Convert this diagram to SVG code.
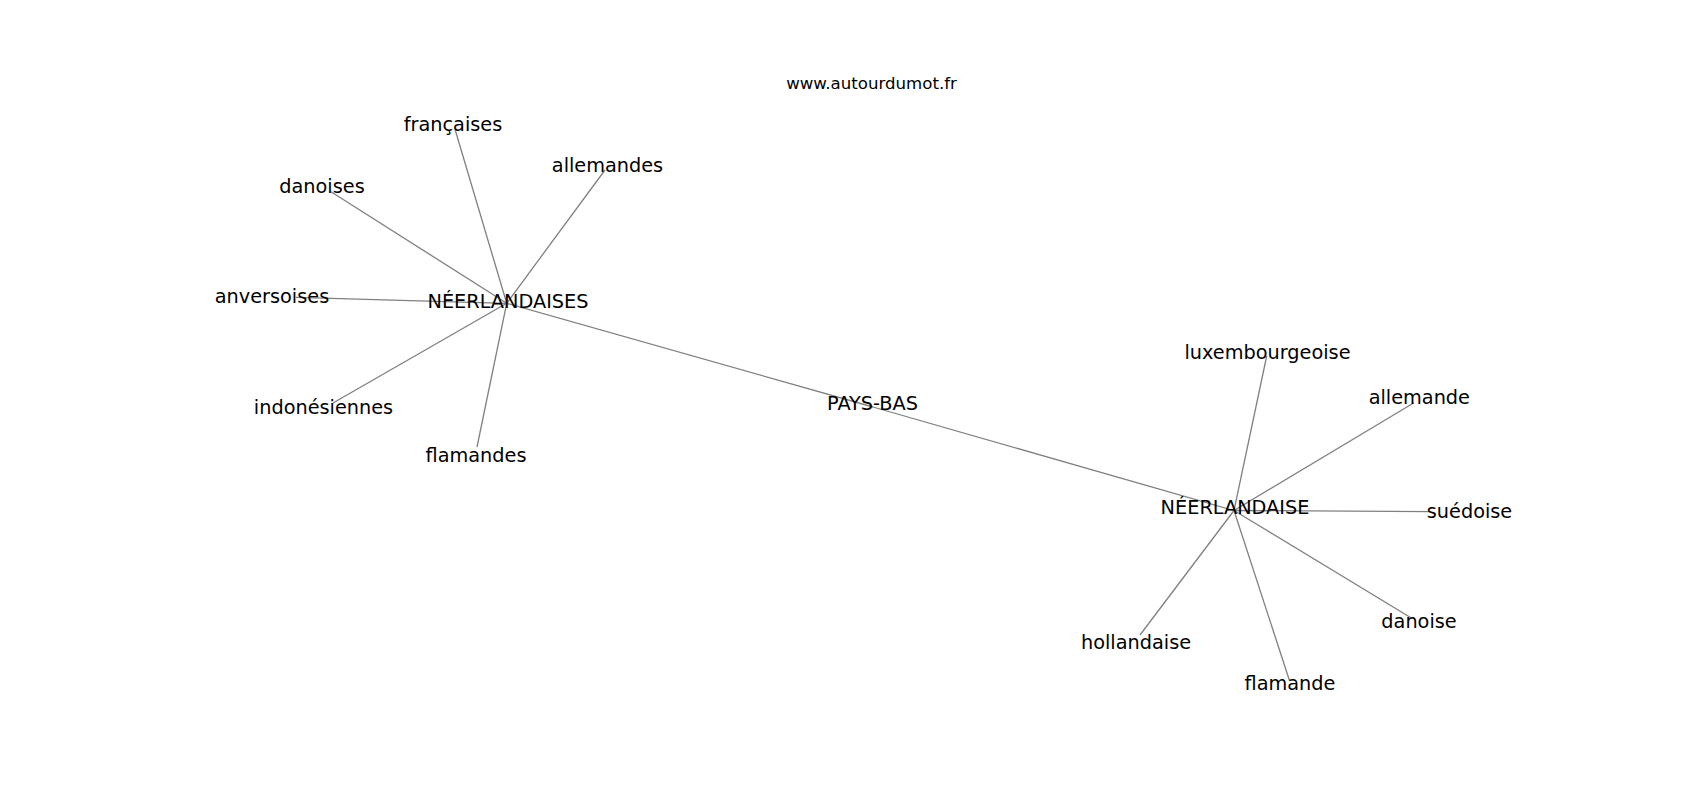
<svg xmlns="http://www.w3.org/2000/svg" width="1700" height="800" viewBox="0 0 1700 800">
<style>
.e{stroke:#808080;stroke-width:1.3;fill:none}
.l{font-family:"DejaVu Sans","Liberation Sans",sans-serif;font-size:19.3px;fill:#000;text-anchor:middle}
.t{font-family:"DejaVu Sans","Liberation Sans",sans-serif;font-size:16.6px;fill:#000;text-anchor:middle}
</style>
<rect width="1700" height="800" fill="#fff"/>
<text class="t" x="871.5" y="88.5">www.autourdumot.fr</text>
<g id="edges">
<line class="e" x1="506.7" y1="303.3" x2="455" y2="129.3"/>
<line class="e" x1="506.7" y1="303.3" x2="605" y2="170"/>
<line class="e" x1="506.7" y1="303.3" x2="331" y2="191.7"/>
<line class="e" x1="506.7" y1="303.3" x2="296" y2="297.3"/>
<line class="e" x1="506.7" y1="303.3" x2="333" y2="403"/>
<line class="e" x1="506.7" y1="303.3" x2="477" y2="447"/>
<line class="e" x1="506.7" y1="303.3" x2="873" y2="407"/>
<line class="e" x1="873" y1="407" x2="1234" y2="510.5"/>
<line class="e" x1="1234" y1="510.5" x2="1266.7" y2="356"/>
<line class="e" x1="1234" y1="510.5" x2="1414" y2="402.7"/>
<line class="e" x1="1234" y1="510.5" x2="1430" y2="511.7"/>
<line class="e" x1="1234" y1="510.5" x2="1411.7" y2="618.3"/>
<line class="e" x1="1234" y1="510.5" x2="1140" y2="635"/>
<line class="e" x1="1234" y1="510.5" x2="1289.3" y2="680"/>
</g>
<g id="n_neerlandaises"><text class="l" x="508" y="308.3">NÉERLANDAISES</text></g>
<g id="n_francaises"><text class="l" x="453" y="131">françaises</text></g>
<g id="n_allemandes"><text class="l" x="607.5" y="171.7">allemandes</text></g>
<g id="n_danoises"><text class="l" x="322" y="192.7">danoises</text></g>
<g id="n_anversoises"><text class="l" x="272" y="302.7">anversoises</text></g>
<g id="n_indonesiennes"><text class="l" x="323.5" y="414.3">indonésiennes</text></g>
<g id="n_flamandes"><text class="l" x="476" y="461.5">flamandes</text></g>
<g id="n_paysbas"><text class="l" x="872.5" y="410.3">PAYS-BAS</text></g>
<g id="n_neerlandaise"><text class="l" x="1235" y="513.7">NÉERLANDAISE</text></g>
<g id="n_luxembourgeoise"><text class="l" x="1267.5" y="359.3">luxembourgeoise</text></g>
<g id="n_allemande"><text class="l" x="1419.3" y="404.3">allemande</text></g>
<g id="n_suedoise"><text class="l" x="1469.5" y="518.3">suédoise</text></g>
<g id="n_danoise"><text class="l" x="1419" y="628.3">danoise</text></g>
<g id="n_hollandaise"><text class="l" x="1136" y="649.3">hollandaise</text></g>
<g id="n_flamande"><text class="l" x="1290" y="690.3">flamande</text></g>
</svg>
